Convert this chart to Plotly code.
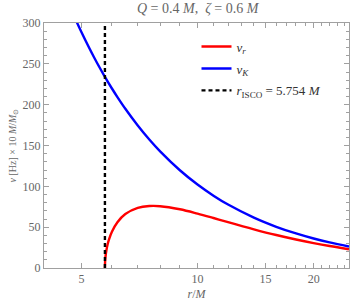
import plotly.graph_objects as go

# Keplerian frequency nu_K (Hz x 10 M/Msun)
r_K = [4.5, 4.8, 5.0, 5.4, 5.754, 6.0, 6.2, 6.5, 7.0, 7.5, 8.0, 9.0, 10.0, 11.0, 12.0, 14.0, 16.0, 18.0, 20.0, 22.0, 24.7]
nu_K = [338.5, 307.2, 289.0, 257.5, 234.1, 219.8, 209.3, 195.0, 174.5, 157.3, 142.8, 119.7, 102.2, 88.6, 77.7, 61.7, 50.5, 42.3, 36.1, 31.3, 26.3]

# Radial epicyclic frequency nu_r
r_r = [5.754, 5.76, 5.78, 5.8, 5.85, 5.9, 6.0, 6.2, 6.5, 7.0, 7.5, 8.0, 9.0, 10.0, 11.0, 12.0, 14.0, 16.0, 18.0, 20.0, 22.0, 24.7]
nu_r = [0.0, 7.5, 15.6, 20.6, 29.3, 35.5, 44.5, 56.1, 66.1, 73.6, 75.9, 75.7, 71.9, 66.6, 61.2, 56.1, 47.4, 40.4, 34.9, 30.5, 26.9, 23.0]

r_isco = 5.754
y_range = [0, 300]
x_ticks = [5, 10, 15, 20]
x_minor = [4, 6, 7, 8, 9, 11, 12, 13, 14, 16, 17, 18, 19, 21, 22, 23, 24]

FONT = "Liberation Serif"
GRAY = "#666666"
FRAME = "#a0a0a0"

fig = go.Figure()
fig.add_trace(go.Scatter(x=r_r, y=nu_r, mode="lines", line=dict(color="#ff0000", width=2.4, shape="spline"),
                         name="<i>ν</i><sub><i>r</i></sub>", legendgroup="a"))
fig.add_trace(go.Scatter(x=r_K, y=nu_K, mode="lines", line=dict(color="#0000ff", width=2.4, shape="spline"),
                         name="<i>ν</i><sub><i>K</i></sub>", legendgroup="b"))
fig.add_trace(go.Scatter(x=[r_isco, r_isco], y=y_range, mode="lines",
                         line=dict(color="black", width=2.4, dash="4px,3px"),
                         name="<i>r</i><sub>ISCO</sub> = 5.754 <i>M</i>", legendgroup="c"))

fig.update_layout(
    width=353, height=304,
    margin=dict(l=44, r=4, t=23, b=36),
    plot_bgcolor="white", paper_bgcolor="white",
    font=dict(family=FONT, color=GRAY, size=12),
    title=dict(text="<i>Q</i> = 0.4 <i>M</i>,  <i>ζ</i> = 0.6 <i>M</i>", x=0.56, xanchor="center",
               y=0.99, yanchor="top", font=dict(size=14, color=GRAY)),
    showlegend=True,
    legend=dict(x=0.5, y=0.965, xanchor="left", yanchor="top", bgcolor="rgba(0,0,0,0)",
                font=dict(size=13, color="#333333"), itemwidth=30, tracegroupgap=2),
)
fig.update_xaxes(type="log", range=[0.60206, 1.3927], tickvals=x_ticks, ticktext=[str(v) for v in x_ticks],
                 ticks="inside", ticklen=5, tickcolor=FRAME, showline=True, linecolor=FRAME, linewidth=1,
                 mirror="ticks", showgrid=False, zeroline=False,
                 minor=dict(tickvals=x_minor, ticks="inside", ticklen=3, tickcolor=FRAME, showgrid=False),
                 title=dict(text="<i>r</i>/<i>M</i>", font=dict(size=12, color=GRAY), standoff=4),
                 tickfont=dict(size=12, color=GRAY))
fig.update_yaxes(range=y_range, tickvals=[0, 50, 100, 150, 200, 250, 300],
                 ticks="inside", ticklen=5, tickcolor=FRAME, showline=True, linecolor=FRAME, linewidth=1,
                 mirror="ticks", showgrid=False, zeroline=False,
                 minor=dict(dtick=10, ticks="inside", ticklen=3, tickcolor=FRAME, showgrid=False),
                 title=dict(text="<i>ν</i> [Hz] × 10 <i>M</i>/<i>M</i><sub>⊙</sub>", font=dict(size=10, color=GRAY), standoff=4),
                 tickfont=dict(size=12, color=GRAY))

fig.write_html("out.html", config={"displayModeBar": False},
               post_script="document.body.style.margin='0';")
